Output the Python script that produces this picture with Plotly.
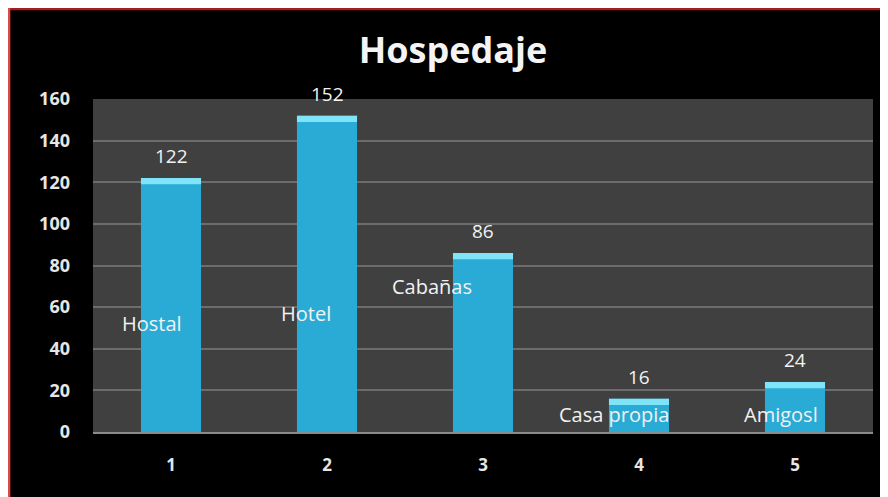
import plotly.graph_objects as go

# ---- data ----
positions = [1, 2, 3, 4, 5]
tick_labels = ["1", "2", "3", "4", "5"]
values = [122, 152, 86, 16, 24]
names = ["Hostal", "Hotel", "Cabañas", "Casa propia", "Amigosl"]
y_ticks = [0, 20, 40, 60, 80, 100, 120, 140, 160]

# placement of the category-name labels (offset from bar centre, height in data units)
name_dx = [-0.12, -0.135, -0.33, -0.16, -0.09]
name_y = [52, 57, 70, 8.6, 8.6]

# the page body has an 8px margin, so the figure starts at (8, 8) on screen
W, H = 888, 497
ML, MR, MT, MB = 85, 23, 91, 73
PW, PH = W - ML - MR, H - MT - MB

def px_x(p):
    return (p - ML) / PW

def px_y(p):
    return (H - MB - p) / PH

FONT = "Open Sans, Lato, sans-serif"

fig = go.Figure()
fig.add_trace(go.Bar(
    x=positions, y=values, width=0.385,
    marker=dict(color="#2aabd5", line=dict(width=0)),
    hoverinfo="skip", showlegend=False,
))
# top highlight strip of each bar
hl = 3.0
fig.add_trace(go.Bar(
    x=positions, y=[hl] * len(values), base=[v - hl for v in values], width=0.385,
    marker=dict(color="#7fe4f7", line=dict(width=0)),
    hoverinfo="skip", showlegend=False,
))

annotations = []
for p, v in zip(positions, values):
    annotations.append(dict(
        x=p, y=v, xref="x", yref="y", text=str(v), showarrow=False,
        yshift=22, yanchor="middle",
        font=dict(family=FONT, size=19, color="#f2f2f2"),
    ))
for p, n, dx, ny in zip(positions, names, name_dx, name_y):
    annotations.append(dict(
        x=p + dx, y=ny, xref="x", yref="y", text=n, showarrow=False,
        xanchor="center", yanchor="middle",
        font=dict(family=FONT, size=20, color="#f2f2f2"),
    ))

shapes = [
    dict(type="line", xref="paper", yref="paper", x0=px_x(0), x1=px_x(W), y0=px_y(0.8), y1=px_y(0.8),
         line=dict(color="#a81c1c", width=3), layer="above"),
    dict(type="line", xref="paper", yref="paper", x0=px_x(0.8), x1=px_x(0.8), y0=px_y(H), y1=px_y(0),
         line=dict(color="#e04848", width=3), layer="above"),
]

fig.update_layout(
    width=W, height=H,
    margin=dict(l=ML, r=MR, t=MT, b=MB, pad=0),
    paper_bgcolor="#000000",
    plot_bgcolor="#404040",
    barmode="overlay",
    title=dict(text="<b>Hospedaje</b>", x=445 / W, xref="container", xanchor="center",
               y=1 - 42 / H, yref="container", yanchor="middle",
               font=dict(family=FONT, size=36, color="#f4f4f4")),
    xaxis=dict(range=[0.5, 5.5], tickvals=positions, ticktext=tick_labels,
               showgrid=False, zeroline=False, showline=True, linecolor="#8a8a8a", linewidth=1.5,
               ticks="", ticklabelstandoff=17,
               tickfont=dict(family=FONT, size=17, color="#e6e6e6", weight="bold")),
    yaxis=dict(range=[0, 160], tickvals=y_ticks, showgrid=True, gridcolor="#6c6c6c", gridwidth=1.5,
               zeroline=False, showline=False, ticks="", ticklabelstandoff=22,
               tickfont=dict(family=FONT, size=18, color="#e6e6e6", weight="bold")),
    annotations=annotations,
    shapes=shapes,
)

fig.write_html("out.html", post_script="document.body.style.overflow='hidden';")
